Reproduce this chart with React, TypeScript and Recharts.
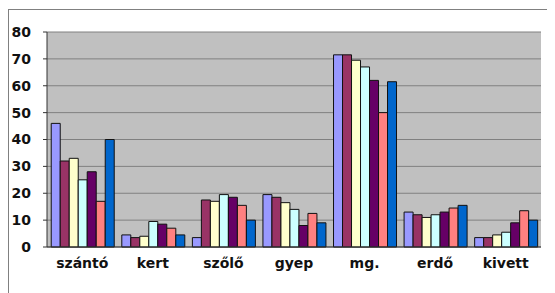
import React from "react";
import { BarChart, Bar, XAxis, YAxis, CartesianGrid } from "recharts";

const categories = ["szántó", "kert", "szőlő", "gyep", "mg.", "erdő", "kivett"];

const series1 = [46, 4.5, 3.5, 19.5, 71.5, 13, 3.5];
const series2 = [32, 3.5, 17.5, 18.5, 71.5, 12, 3.5];
const series3 = [33, 4, 17, 16.5, 69.5, 11, 4.5];
const series4 = [25, 9.5, 19.5, 14, 67, 12, 5.5];
const series5 = [28, 8.5, 18.5, 8, 62, 13, 9];
const series6 = [17, 7, 15.5, 12.5, 50, 14.5, 13.5];
const series7 = [40, 4.5, 10, 9, 61.5, 15.5, 10];

const yTicks = [0, 10, 20, 30, 40, 50, 60, 70, 80];

const seriesList = [
  { key: "s1", values: series1, color: "#9999ff" },
  { key: "s2", values: series2, color: "#993366" },
  { key: "s3", values: series3, color: "#ffffcc" },
  { key: "s4", values: series4, color: "#ccffff" },
  { key: "s5", values: series5, color: "#660066" },
  { key: "s6", values: series6, color: "#ff8080" },
  { key: "s7", values: series7, color: "#0066cc" },
];

const data = categories.map((name, i) => {
  const row: Record<string, string | number> = { name };
  seriesList.forEach((s) => {
    row[s.key] = s.values[i];
  });
  return row;
});

const tickStyle = {
  fontFamily: "'DejaVu Sans', sans-serif",
  fontWeight: "bold" as const,
  fontSize: 14,
  fill: "#111",
};

export default function App() {
  return (
    <div
      style={{
        position: "relative",
        top: 1,
        width: 547,
        height: 285,
        borderTop: "1px solid #808080",
        borderLeft: "1px solid #808080",
        background: "#fff",
      }}
    >
      <BarChart
        width={546}
        height={284}
        data={data}
        margin={{ top: 22, right: 14, bottom: 17, left: 0 }}
        barCategoryGap="6%"
        barGap={0}
      >
        <CartesianGrid
          vertical={false}
          stroke="#808080"
          fill="#c0c0c0"
          fillOpacity={1}
        />
        <XAxis
          dataKey="name"
          height={30}
          tickLine={false}
          tickSize={6}
          tickMargin={5}
          axisLine={{ stroke: "#333" }}
          tick={tickStyle}
          interval={0}
        />
        <YAxis
          width={38}
          domain={[0, 80]}
          ticks={yTicks}
          tickSize={4}
          tickMargin={12}
          axisLine={{ stroke: "#333" }}
          tickLine={{ stroke: "#333" }}
          tick={tickStyle}
          interval={0}
        />
        {seriesList.map((s) => (
          <Bar
            key={s.key}
            dataKey={s.key}
            fill={s.color}
            stroke="#111"
            strokeWidth={1}
            isAnimationActive={false}
          />
        ))}
      </BarChart>
    </div>
  );
}
